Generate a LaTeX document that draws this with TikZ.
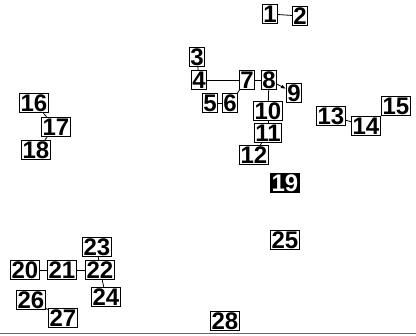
\documentclass[tikz,border=0pt]{standalone}
\usepackage{fontspec}
\setmainfont{Liberation Sans}
\usetikzlibrary{arrows.meta}
\begin{document}
\begin{tikzpicture}[x=1pt,y=-1pt,
  nd/.style={draw=black,line width=0.9pt,inner sep=1pt,text height=17pt,text depth=0.5pt,font=\fontsize{24}{24}\selectfont\bfseries},
  ndinv/.style={nd,fill=black,text=white},
  ed/.style={draw=black,line width=0.8pt},
  arr/.style={ed,-{Latex[length=5pt,width=4pt]}}]
\useasboundingbox (0,0) rectangle (416,336);
\fill[white] (0,0) rectangle (416,336);
\node[nd] (n1) at (270,14) {1};
\node[nd] (n2) at (300,16) {2};
\node[nd] (n3) at (197,57) {3};
\node[nd] (n4) at (199,80) {4};
\node[nd] (n5) at (210,103) {5};
\node[nd] (n6) at (230,103) {6};
\node[nd] (n7) at (247,80) {7};
\node[nd] (n8) at (269,80) {8};
\node[nd] (n9) at (294,93) {9};
\node[nd] (n10) at (268,111) {10};
\node[nd] (n11) at (268,133) {11};
\node[nd] (n12) at (254,155) {12};
\node[nd] (n13) at (331,116) {13};
\node[nd] (n14) at (366,126) {14};
\node[nd] (n15) at (396,106) {15};
\node[nd] (n16) at (34,103) {16};
\node[nd] (n17) at (56,127) {17};
\node[nd] (n18) at (36,150) {18};
\node[ndinv] (n19) at (285,183) {19};
\node[nd] (n20) at (25,270) {20};
\node[nd] (n21) at (62,270) {21};
\node[nd] (n22) at (100,270) {22};
\node[nd] (n23) at (97,247) {23};
\node[nd] (n24) at (106,297) {24};
\node[nd] (n25) at (285,240) {25};
\node[nd] (n26) at (31,300) {26};
\node[nd] (n27) at (63,318) {27};
\node[nd] (n28) at (225,321) {28};
\draw[ed] (n1) -- (n2);
\draw[ed] (n3) -- (n4);
\draw[ed] (n4) -- (n7);
\draw[ed] (n5) -- (n6);
\draw[ed] (n6) -- (n7);
\draw[ed] (n7) -- (n8);
\draw[arr] (n8) -- (n9);
\draw[ed] (n8) -- (n10);
\draw[ed] (n10) -- (n11);
\draw[ed] (n11) -- (n12);
\draw[ed] (n13) -- (n14);
\draw[ed] (n14) -- (n15);
\draw[ed] (n16) -- (n17);
\draw[ed] (n17) -- (n18);
\draw[ed] (n20) -- (n21);
\draw[ed] (n21) -- (n22);
\draw[ed] (n22) -- (n23);
\draw[ed] (n22) -- (n24);
\draw[ed] (n26) -- (n27);
\draw[black!60,line width=1pt] (0,334) -- (416,334);
\end{tikzpicture}
\end{document}
